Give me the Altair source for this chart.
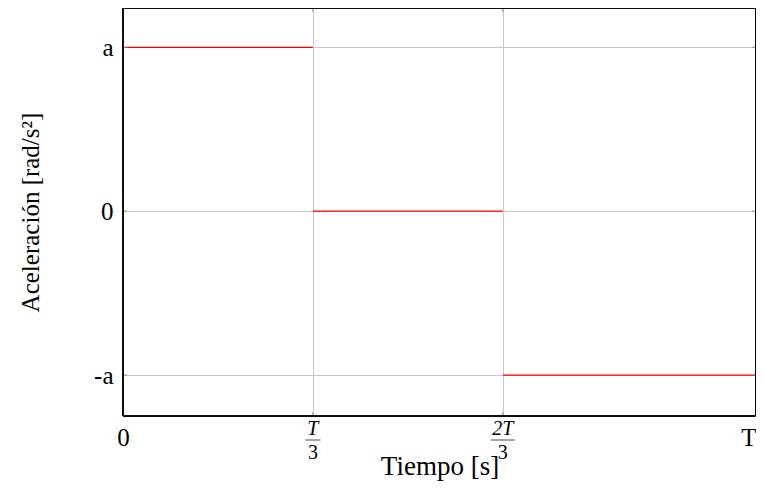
import altair as alt
import pandas as pd

# ---- data -------------------------------------------------------------
seg_start = [0.0, 0.3, 0.6]
seg_end = [0.3, 0.6, 1.0]
seg_value = [1, 0, -1]

x_ticks = [0.0, 0.3, 0.6, 1.0]
x_plain_labels = ["0", "", "", "T"]
frac_ticks = [0.3, 0.6]
frac_num = ["T", "2T"]
frac_den = ["3", "3"]

y_ticks = [-1, 0, 1]
y_labels = ["-a", "0", "a"]

x_title = "Tiempo [s]"
y_title = "Aceleración  [rad/s²]"

# ---- layout / style -----------------------------------------------------
FONT = "Liberation Serif"
FS = 25
FS_XTITLE = 27
FS_FRAC = 20
W, H = 633, 408
GRID = "#c8c8c8"
TICK = "#8c8c8c"


def label_expr(vals, labels):
    expr = "''"
    for v, l in zip(vals, labels):
        expr = f"(abs(datum.value - ({v})) < 1e-6 ? '{l}' : {expr})"
    return expr


segs = pd.DataFrame({"x0": seg_start, "x1": seg_end, "v": seg_value})
xt = pd.DataFrame({"t": x_ticks})
ft = pd.DataFrame({"t": frac_ticks, "num": frac_num, "den": frac_den})
yt = pd.DataFrame({"v": y_ticks})

xscale = alt.Scale(domain=[0, 1], nice=False, zero=False)
yscale = alt.Scale(domain=[-1.25, 1.24], nice=False, zero=False)

x_axis = alt.Axis(
    values=x_ticks,
    labelExpr=label_expr(x_ticks, x_plain_labels),
    title=x_title,
    grid=True,
    gridColor=GRID,
    domain=False,
    ticks=False,
    tickSize=0,
    labelFont=FONT,
    labelFontSize=FS,
    labelColor="black",
    labelBaseline="middle",
    labelAlign={"condition": {"test": "datum.value > 0.99", "value": "right"}, "value": "center"},
    labelPadding=21,
    labelFlush=False,
    labelOverlap=False,
    titleFont=FONT,
    titleFontSize=FS_XTITLE,
    titleFontWeight="normal",
    titleColor="black",
    titleBaseline="middle",
    titleY=50,
)

y_axis = alt.Axis(
    values=y_ticks,
    labelExpr=label_expr(y_ticks, y_labels),
    title=y_title,
    grid=True,
    gridColor=GRID,
    domain=False,
    ticks=False,
    tickSize=0,
    labelFont=FONT,
    labelFontSize=FS,
    labelColor="black",
    labelPadding=10,
    labelFlush=False,
    labelOverlap=False,
    titleFont=FONT,
    titleFontSize=FS,
    titleFontWeight="normal",
    titleColor="black",
    titleX=-93,
    titleY=H / 2,
    titleAngle=-90,
    titleAlign="center",
    titleBaseline="middle",
)

lines = alt.Chart(segs).mark_rule(color="#ff0000", strokeWidth=1.2).encode(
    x=alt.X("x0:Q", scale=xscale, axis=x_axis),
    x2="x1:Q",
    y=alt.Y("v:Q", scale=yscale, axis=y_axis),
)

tick_bottom = alt.Chart(xt).mark_rule(color=TICK).encode(
    x=alt.X("t:Q", scale=xscale), y=alt.value(H), y2=alt.value(H - 4)
)
tick_top = alt.Chart(xt).mark_rule(color=TICK).encode(
    x=alt.X("t:Q", scale=xscale), y=alt.value(0), y2=alt.value(4)
)
tick_left = alt.Chart(yt).mark_rule(color=TICK).encode(
    y=alt.Y("v:Q", scale=yscale), x=alt.value(0), x2=alt.value(4)
)
tick_right = alt.Chart(yt).mark_rule(color=TICK).encode(
    y=alt.Y("v:Q", scale=yscale), x=alt.value(W), x2=alt.value(W - 4)
)

frame = alt.Chart(xt).mark_rect(filled=False, stroke="black", strokeWidth=1).encode(
    x=alt.value(0), x2=alt.value(W - 0.5), y=alt.value(0), y2=alt.value(H)
)

num = alt.Chart(ft).mark_text(
    font=FONT, fontSize=FS_FRAC, fontStyle="italic", baseline="middle", color="black"
).encode(x=alt.X("t:Q", scale=xscale), y=alt.value(H + 13), text="num:N")

den = alt.Chart(ft).mark_text(
    font=FONT, fontSize=FS_FRAC, baseline="middle", color="black"
).encode(x=alt.X("t:Q", scale=xscale), y=alt.value(H + 37), text="den:N")

bar = alt.Chart(ft).mark_tick(orient="horizontal", thickness=1, color="black").encode(
    x=alt.X("t:Q", scale=xscale),
    y=alt.value(H + 24),
    size=alt.condition("length(datum.num) > 1", alt.value(24), alt.value(15)),
)

chart = (
    alt.layer(lines, tick_bottom, tick_top, tick_left, tick_right, frame, num, bar, den)
    .properties(
        width=W,
        height=H,
        autosize=alt.AutoSizeParams(type="none"),
        padding={"left": 115, "top": 0, "right": 0, "bottom": 66},
    )
    .configure_view(stroke=None)
    .configure(background="white")
)

chart.save("out.html", embed_options={"renderer": "svg", "actions": False})
